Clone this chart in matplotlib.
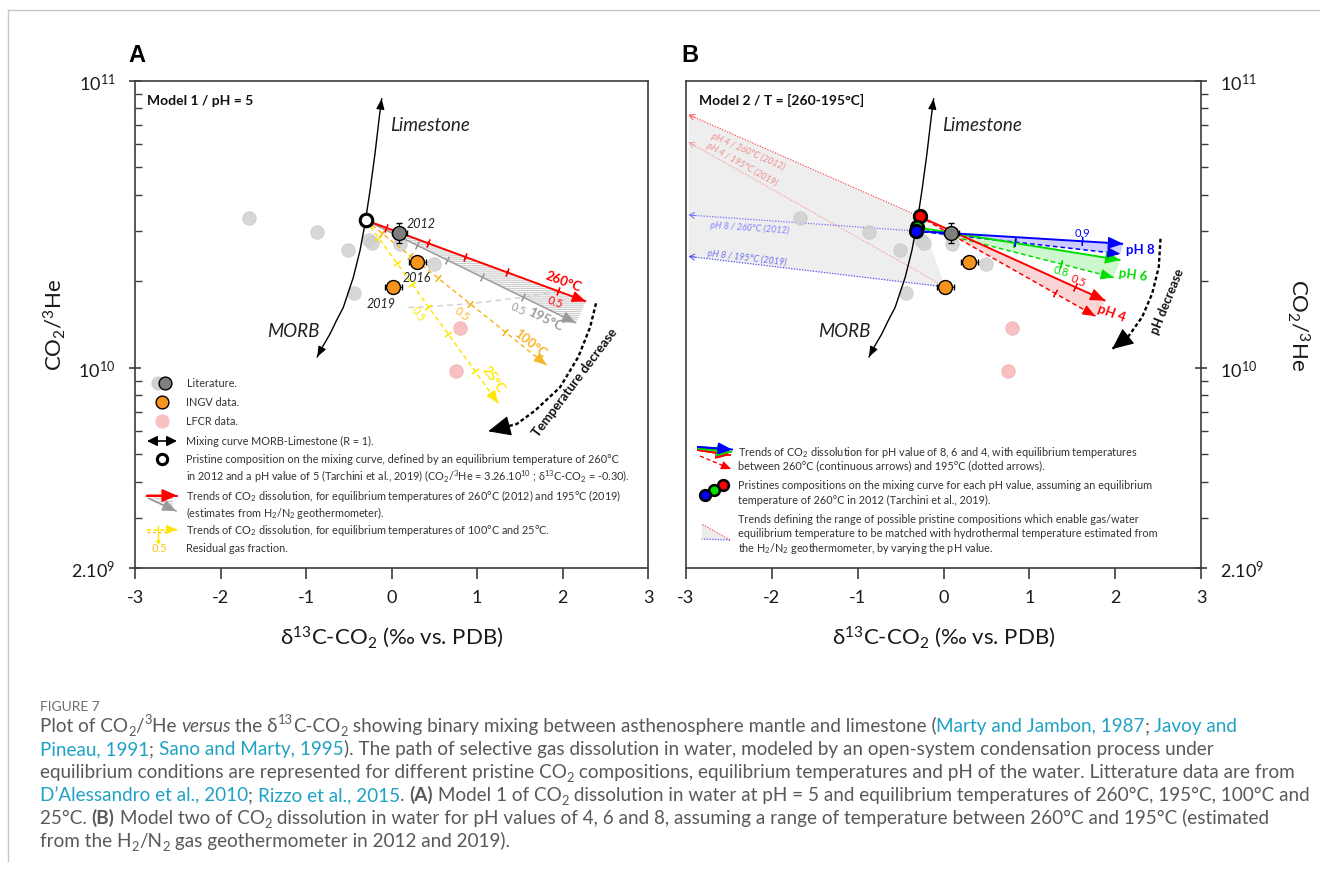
import numpy as np
import matplotlib.pyplot as plt
from matplotlib.patches import Polygon
from matplotlib.ticker import FixedLocator, FixedFormatter, LogLocator, NullFormatter

plt.rcParams['font.family'] = ['Lato', 'DejaVu Sans']
plt.rcParams['mathtext.fontset'] = 'custom'
plt.rcParams['mathtext.rm'] = 'Lato'
plt.rcParams['mathtext.it'] = 'Lato:italic'
plt.rcParams['mathtext.bf'] = 'Lato:bold'
plt.rcParams['hatch.linewidth'] = 0.6

# ---------------- data ----------------
xticks = [-3, -2, -1, 0, 1, 2, 3]
yticks = [2e9, 1e10, 1e11]
ytick_labels = ['2.10$^9$', '10$^{10}$', '10$^{11}$']

# mixing curve MORB - limestone (R = 1)
mix_x = [-0.868, -0.801, -0.719, -0.643, -0.564, -0.447, -0.368, -0.310, -0.251, -0.193, -0.143, -0.115]
mix_y = [1.09e10, 1.19e10, 1.31e10, 1.46e10, 1.62e10, 2.06e10, 2.56e10, 3.17e10, 4.14e10, 5.56e10, 7.45e10, 8.63e10]

# literature data
lit_x = [-1.67, -0.87, -0.505, -0.26, -0.225, 0.094, 0.495, -0.435]
lit_y = [3.32e10, 2.96e10, 2.57e10, 2.79e10, 2.71e10, 2.70e10, 2.30e10, 1.82e10]
lit12_x, lit12_y = 0.09, 2.94e10
lit12_xerr, lit12_yerr = 0.09, [[0.22e10], [0.24e10]]

# INGV data
ingv_x = [0.30, 0.02]
ingv_y = [2.33e10, 1.91e10]
ingv_years = ['2016', '2019']
ingv_xerr = 0.10
ingv_yerr = 0.05e10

# LFCR data
lfcr_x = [0.80, 0.75]
lfcr_y = [1.37e10, 9.7e9]

# pristine composition, model 1
pristine_x, pristine_y = -0.30, 3.26e10

# model 1 dissolution trends (pH = 5)
m1_names = ['260°C', '195°C', '100°C', '25°C']
m1_end_x = [2.275, 2.158, 1.815, 1.249]
m1_end_y = [1.70e10, 1.43e10, 1.02e10, 7.51e9]
m1_ticks = [[-0.06, 0.43, 0.86, 1.35, 1.95],
            [0.295, 0.653, 1.055, 1.542],
            [-0.115, 0.216, 0.547, 0.918, 1.327],
            [-0.154, 0.061, 0.236, 0.431, 0.664, 0.977]]
m1_half = [4, 3, 3, 3]
half_start_x, half_start_y = 0.197, 1.62e10

tdec_x = [2.392, 2.322, 2.185, 1.971, 1.678, 1.464, 1.132]
tdec_y = [1.675e10, 1.38e10, 1.09e10, 8.54e9, 7.08e9, 6.36e9, 6.0e9]

# model 2 (T = 260-195 C)
ph_names = ['pH 8', 'pH 6', 'pH 4']
ph_x0 = [-0.318, -0.303, -0.279]
ph_y0 = [2.99e10, 3.08e10, 3.36e10]
ph260_x = [2.093, 2.061, 1.886]
ph260_y = [2.70e10, 2.37e10, 1.71e10]
ph195_x = [2.061, 1.983, 1.770]
ph195_y = [2.49e10, 2.06e10, 1.51e10]
ph260_tick = [1.615, 0.817, 1.536]
ph195_tick = [0.837, 1.373, 1.303]

range_labels = ['pH 4 / 260°C (2012)', 'pH 4 / 195°C (2019)',
                'pH 8 / 260°C (2012)', 'pH 8 / 195°C (2019)']
range_end_x = -2.97
range_end_y = [7.6e10, 6.1e10, 3.40e10, 2.44e10]

phdec_x = [2.528, 2.508, 2.431, 2.314, 2.158, 1.964]
phdec_y = [2.81e10, 2.24e10, 1.81e10, 1.50e10, 1.29e10, 1.16e10]

# colours
RED = '#ff0000'
GREY = '#9b9b9b'
GOLD = '#f8b62b'
YEL = '#ffe600'
BLUE = '#0000ff'
GREEN = '#00dd00'
LITC = '#d0d0d0'
ORANGE = '#f7941d'
PINK = '#f8c0c0'
TXT = '#333333'


def on_line(x0, y0, x1, y1, x):
    f = (x - x0) / (x1 - x0)
    return 10 ** (np.log10(y0) + f * (np.log10(y1) - np.log10(y0)))


def ang(ax, x0, y0, x1, y1):
    (a, b), (c, d) = ax.transData.transform([(x0, y0), (x1, y1)])
    return np.degrees(np.arctan2(d - b, c - a))


def head(ax, x0, y0, x1, y1, color, size=10, lw=1.0, style='-|>,head_length=0.8,head_width=0.32'):
    t = np.radians(ang(ax, x0, y0, x1, y1))
    L = size * 0.85
    ax.annotate('', xy=(x1, y1), xytext=(-np.cos(t) * L, -np.sin(t) * L), textcoords='offset points',
                arrowprops=dict(arrowstyle=style, color=color, lw=lw, mutation_scale=size,
                                shrinkA=0, shrinkB=0), zorder=7)


def trend(ax, x0, y0, x1, y1, color, ls='-', lw=1.4, size=11, z=5):
    ax.plot([x0, x1], [y0, y1], color=color, ls=ls, lw=lw, zorder=z, solid_capstyle='butt')
    head(ax, x0, y0, x1, y1, color, size=size, lw=0.8)


def frac_ticks(ax, x0, y0, x1, y1, xs, color, ms=6):
    a = ang(ax, x0, y0, x1, y1)
    ys = [on_line(x0, y0, x1, y1, x) for x in xs]
    ax.plot(xs, ys, ls='none', marker=(2, 2, a), ms=ms, mew=0.9, color=color, zorder=6)
    return ys


W, H = 1320, 870
fig = plt.figure(figsize=(W / 100, H / 100), dpi=100)
top, bot = 81.5, 569.3
axA = fig.add_axes([135 / W, 1 - bot / H, 513 / W, (bot - top) / H])
axB = fig.add_axes([686 / W, 1 - bot / H, 515 / W, (bot - top) / H])

for ax in (axA, axB):
    ax.set_yscale('log')
    ax.set_xlim(-3, 3)
    ax.set_ylim(2e9, 1e11)
    ax.set_xticks(xticks)
    ax.set_xticklabels([str(v) for v in xticks])
    ax.yaxis.set_major_locator(FixedLocator(yticks))
    ax.yaxis.set_major_formatter(FixedFormatter(ytick_labels))
    ax.yaxis.set_minor_locator(LogLocator(base=10, subs=np.arange(2, 10)))
    ax.yaxis.set_minor_formatter(NullFormatter())
    for sp in ax.spines.values():
        sp.set_linewidth(1.2)
        sp.set_color('#3c3c3c')
    ax.tick_params(axis='x', direction='out', length=8, width=1.2, color='#3c3c3c',
                   pad=7, labelsize=13, labelcolor='#1a1a1a')
    ax.tick_params(axis='y', which='major', direction='inout', length=8, width=1.2,
                   color='#3c3c3c', labelsize=13, pad=10, labelcolor='#1a1a1a')
    ax.tick_params(axis='y', which='minor', length=5, width=1.0, color='#3c3c3c')
    ax.set_xlabel('δ$^{13}$C-CO$_2$ (‰ vs. PDB)', fontsize=16, va='center', color='#1a1a1a')
    ax.xaxis.set_label_coords(0.5, (bot - 637) / (bot - top))

axA.tick_params(axis='y', which='minor', direction='in')
axA.tick_params(axis='y', which='both', left=True, right=False)
axA.set_ylabel('CO$_2$/$^3$He', fontsize=16, va='center', color='#1a1a1a')
axA.yaxis.set_label_coords((55 - 135) / 513, 0.5)

axB.yaxis.tick_right()
axB.tick_params(axis='y', which='both', left=False, right=True, labelleft=False, labelright=True)
axB.tick_params(axis='y', which='minor', direction='out')
axB.yaxis.set_label_position('right')
axB.set_ylabel('CO$_2$/$^3$He', fontsize=16, rotation=270, va='center', color='#1a1a1a')
axB.yaxis.set_label_coords((1298 - 686) / 515, 0.5)


def common(ax, show_years):
    # mixing curve with arrows at both ends
    ax.plot(mix_x, mix_y, color='k', lw=1.0, zorder=4)
    hs = '-|>,head_length=0.7,head_width=0.28'
    head(ax, mix_x[-2], mix_y[-2], mix_x[-1], mix_y[-1], 'k', size=9, lw=0.8, style=hs)
    head(ax, mix_x[1], mix_y[1], mix_x[0], mix_y[0], 'k', size=9, lw=0.8, style=hs)
    ax.text(0.498, 0.909, 'Limestone', transform=ax.transAxes, fontsize=13.5, style='italic',
            color='#222222', va='center', ha='left')
    ax.text(0.257, 0.488, 'MORB', transform=ax.transAxes, fontsize=13.5, style='italic',
            color='#222222', va='center', ha='left')
    # data
    ax.scatter(lit_x, lit_y, s=95, c=LITC, edgecolors='#c4c4c4', linewidths=0.5, alpha=0.85, zorder=3)
    ax.scatter(lfcr_x, lfcr_y, s=95, c=PINK, edgecolors='#f0b0b0', linewidths=0.5, zorder=3)
    ax.errorbar(lit12_x, lit12_y, xerr=lit12_xerr, yerr=lit12_yerr, fmt='o', ms=10, mfc='#7f7f7f',
                mec='k', mew=1, ecolor='k', elinewidth=0.9, capsize=2.5, zorder=9)
    ax.errorbar(ingv_x, ingv_y, xerr=ingv_xerr, yerr=ingv_yerr, fmt='o', ms=10, mfc=ORANGE,
                mec='k', mew=1, ecolor='k', elinewidth=0.9, capsize=2.5, zorder=9)
    if show_years:
        ax.annotate('2012', (lit12_x, lit12_y), xytext=(5, 7), textcoords='offset points',
                    fontsize=9, style='italic', color='#222222', ha='left', va='center')
        offs = [(0, -10.5), (-9, -11.5)]
        for x, y, t, o in zip(ingv_x, ingv_y, ingv_years, offs):
            ax.annotate(t, (x, y), xytext=o, textcoords='offset points', fontsize=9,
                        style='italic', color='#222222', ha='center', va='center')


# ---------------- panel A ----------------
common(axA, True)
axA.text(0.023, 0.961, 'Model 1 / pH = 5', transform=axA.transAxes, fontsize=10,
         fontweight='bold', va='center', ha='left', color='#111111')

m1_colors = [RED, GREY, GOLD, YEL]
m1_styles = ['-', '-', (0, (3, 2.2)), (0, (3, 2.2))]
m1_lw = [1.4, 1.1, 1.1, 1.1]
m1_z = [6, 5, 4.5, 4.4]

# hatched area between 260 and 195 trends
axA.add_patch(Polygon([(pristine_x, pristine_y), (m1_end_x[0], m1_end_y[0]), (m1_end_x[1], m1_end_y[1])],
                      closed=True, facecolor='#f7f7f7', edgecolor='#c4c4c4', hatch='--------',
                      lw=0, zorder=2))

half_x, half_y = [half_start_x], [half_start_y]
for i in [3, 2, 1, 0]:
    trend(axA, pristine_x, pristine_y, m1_end_x[i], m1_end_y[i], m1_colors[i], ls=m1_styles[i],
          lw=m1_lw[i], size=11 if i < 2 else 10, z=m1_z[i])
    ys = frac_ticks(axA, pristine_x, pristine_y, m1_end_x[i], m1_end_y[i], m1_ticks[i], m1_colors[i])
    half_x.insert(1, m1_ticks[i][m1_half[i]])
    half_y.insert(1, ys[m1_half[i]])
order = np.argsort(half_x)
axA.plot(np.array(half_x)[order], np.array(half_y)[order], color='#cfcfcf', lw=1.0,
         ls=(0, (4, 3)), zorder=3.5)

# labels on model 1 trends
name_off = [(-16, 15), (-22, 3), (-12, 16), (-3.6, 17.6)]
half_off = [(-2.4, -7.2), (-4, -8), (-6, -6.5), (-7.2, -4.8)]
lab_col = [RED, GREY, GOLD, YEL]
for i in range(4):
    a = ang(axA, pristine_x, pristine_y, m1_end_x[i], m1_end_y[i])
    axA.annotate(m1_names[i], (m1_end_x[i], m1_end_y[i]), xytext=name_off[i], textcoords='offset points',
                 fontsize=9.5, fontweight='bold', color=lab_col[i], rotation=a, ha='center',
                 va='center', rotation_mode='anchor', zorder=8)
    hx = m1_ticks[i][m1_half[i]]
    hy = on_line(pristine_x, pristine_y, m1_end_x[i], m1_end_y[i], hx)
    axA.annotate('0.5', (hx, hy), xytext=half_off[i], textcoords='offset points', fontsize=8,
                 color=lab_col[i], rotation=a, ha='center', va='center', rotation_mode='anchor', zorder=8)

axA.plot(pristine_x, pristine_y, 'o', ms=9, mfc='white', mec='k', mew=2.2, zorder=10)

# temperature decrease
axA.plot(tdec_x, tdec_y, color='k', lw=1.7, ls=(0, (1.6, 1.1)), zorder=6)
head(axA, tdec_x[-2], tdec_y[-2], tdec_x[-1], tdec_y[-1], 'k', size=18, lw=0.8,
     style='-|>,head_length=0.8,head_width=0.36')
axA.text(0.858, 0.383, 'Temperature decrease', transform=axA.transAxes, fontsize=9.5,
         fontweight='bold', rotation=53, ha='center', va='center', color='#111111')

# ---------------- panel B ----------------
axB.text(0.025, 0.961, 'Model 2 / T = [260-195°C]', transform=axB.transAxes, fontsize=10,
         fontweight='bold', va='center', ha='left', color='#111111')

# range of possible pristine compositions
axB.add_patch(Polygon([(range_end_x, range_end_y[0]), (ph_x0[2], ph_y0[2]), (ingv_x[1], ingv_y[1]),
                       (range_end_x, range_end_y[3])], closed=True, facecolor='#eeeeee',
                      edgecolor='none', zorder=0.5))
range_start = [(ph_x0[2], ph_y0[2]), (ingv_x[1], ingv_y[1]), (ph_x0[0], ph_y0[0]), (ingv_x[1], ingv_y[1])]
range_col = ['#ff5555', '#f6a0a0', '#7070ff', '#4d4dee']
range_txt = ['#f38a8a', '#f08c8c', '#8080ff', '#7070f0']
range_pos = [(0.121, 0.856), (0.108, 0.830), (0.123, 0.699), (0.118, 0.639)]
for (sx, sy), ey, c, tc, lab, pos in zip(range_start, range_end_y, range_col, range_txt, range_labels, range_pos):
    axB.plot([sx, range_end_x], [sy, ey], color=c, lw=0.9, ls=(0, (1, 1.2)), zorder=2)
    head(axB, sx, sy, range_end_x, ey, c, size=6, lw=0.7, style='->,head_length=0.6,head_width=0.35')
    a = ang(axB, sx, sy, range_end_x, ey) + 180
    axB.text(pos[0], pos[1], lab, transform=axB.transAxes, fontsize=6.5, style='italic', color=tc,
             rotation=a, ha='center', va='center', rotation_mode='anchor')

common(axB, False)

ph_colors = [BLUE, GREEN, RED]
ph_fill = ['#b8b8ff', '#b8f5b8', '#f9c4c4']
for i in range(3):
    axB.add_patch(Polygon([(ph_x0[i], ph_y0[i]), (ph260_x[i], ph260_y[i]), (ph195_x[i], ph195_y[i])],
                          closed=True, facecolor=ph_fill[i], edgecolor='none', alpha=0.7, zorder=2.5))
for i in [2, 1, 0]:
    trend(axB, ph_x0[i], ph_y0[i], ph195_x[i], ph195_y[i], ph_colors[i], ls=(0, (3, 2)), lw=1.1,
          size=10, z=5)
    trend(axB, ph_x0[i], ph_y0[i], ph260_x[i], ph260_y[i], ph_colors[i], lw=1.4, size=12, z=5.5)
    frac_ticks(axB, ph_x0[i], ph_y0[i], ph260_x[i], ph260_y[i], [ph260_tick[i]], ph_colors[i])
    frac_ticks(axB, ph_x0[i], ph_y0[i], ph195_x[i], ph195_y[i], [ph195_tick[i]], ph_colors[i])

# residual fraction labels
y9 = on_line(ph_x0[0], ph_y0[0], ph260_x[0], ph260_y[0], ph260_tick[0])
axB.annotate('0.9', (ph260_tick[0], y9), xytext=(0, 6.5), textcoords='offset points', fontsize=8,
             color=BLUE, ha='center', va='center')
y8 = on_line(ph_x0[1], ph_y0[1], ph195_x[1], ph195_y[1], ph195_tick[1])
axB.annotate('0.8', (ph195_tick[1], y8), xytext=(0, -4.8), textcoords='offset points', fontsize=8,
             color=GREEN, ha='center', va='center', rotation=ang(axB, ph_x0[1], ph_y0[1], ph195_x[1], ph195_y[1]))
y5 = on_line(ph_x0[2], ph_y0[2], ph260_x[2], ph260_y[2], ph260_tick[2])
axB.annotate('0.5', (ph260_tick[2], y5), xytext=(2.4, 5.3), textcoords='offset points', fontsize=8,
             color=RED, ha='center', va='center', rotation=ang(axB, ph_x0[2], ph_y0[2], ph260_x[2], ph260_y[2]))

# pH labels
ph_off = [(4, 3.5), (3.6, 3.6), (11.5, 3)]
ph_rot = [0, -8, -20]
for i in range(3):
    axB.annotate(ph_names[i], (ph195_x[i], ph195_y[i]), xytext=ph_off[i], textcoords='offset points',
                 fontsize=9.5, fontweight='bold', color=ph_colors[i], rotation=ph_rot[i],
                 ha='left' if i < 2 else 'center', va='center', rotation_mode='anchor')

for i in [2, 1, 0]:
    axB.plot(ph_x0[i], ph_y0[i], 'o', ms=9, mfc=ph_colors[i], mec='k', mew=2.0, zorder=10)

axB.plot(phdec_x, phdec_y, color='k', lw=1.7, ls=(0, (1.6, 1.1)), zorder=6)
head(axB, phdec_x[-2], phdec_y[-2], phdec_x[-1], phdec_y[-1], 'k', size=17, lw=0.8,
     style='-|>,head_length=0.8,head_width=0.36')
axB.text(0.934, 0.548, 'pH decrease', transform=axB.transAxes, fontsize=9,
         fontweight='bold', rotation=68, ha='center', va='center', color='#111111')

# ---------------- overlay: frame, letters, legends, caption ----------------
ov = fig.add_axes([0, 0, 1, 1])
ov.set_xlim(0, W)
ov.set_ylim(H, 0)
ov.axis('off')
ov.patch.set_alpha(0)

ov.plot([8, W], [11, 11], color='#c6c6c6', lw=1.0)
ov.plot([8, 8], [11, 862], color='#c6c6c6', lw=1.0)
ov.text(137, 55, 'A', fontsize=17, fontweight='bold', family=['Liberation Sans', 'DejaVu Sans'],
        ha='center', va='center')
ov.text(690, 55, 'B', fontsize=17, fontweight='bold', family=['Liberation Sans', 'DejaVu Sans'],
        ha='center', va='center')


def oarrow(p0, p1, color, lw=1.0, ls='-', size=8, style='-|>,head_length=0.8,head_width=0.35'):
    ov.plot([p0[0], p1[0]], [p0[1], p1[1]], color=color, lw=lw, ls=ls)
    ov.annotate('', xy=p1, xytext=p0, arrowprops=dict(arrowstyle=style, color=color, lw=0.001 if ls != '-' else lw,
                                                       mutation_scale=size, shrinkA=0, shrinkB=0))


# legend A
ov.scatter([158.3], [383.5], s=85, c=LITC, zorder=5)
ov.scatter([165], [383.5], s=85, c='#7f7f7f', edgecolors='k', linewidths=1, zorder=6)
ov.scatter([162.3], [402.5], s=85, c=ORANGE, edgecolors='k', linewidths=1)
ov.scatter([162.3], [421.5], s=85, c=PINK)
ov.annotate('', xy=(177, 442), xytext=(147, 442),
            arrowprops=dict(arrowstyle='<|-|>,head_length=0.6,head_width=0.3', color='k', lw=1.2,
                            mutation_scale=10, shrinkA=0, shrinkB=0))
ov.scatter([162.3], [459.5], s=55, c='white', edgecolors='k', linewidths=2.2, zorder=6)
ov.add_patch(Polygon([(149, 497), (173, 497), (173, 510)], closed=True, facecolor='#f4f4f4',
                     edgecolor='#c4c4c4', hatch='------', lw=0))
oarrow((149, 499.5), (176, 512), GREY, lw=1.1, size=10)
oarrow((147, 496.5), (177, 496.5), RED, lw=1.4, size=11)
oarrow((147, 530.5), (177, 530.5), YEL, lw=1.2, ls=(0, (2.5, 1.5)), size=10)
ov.plot([147, 168], [532.5, 532.5], color=GOLD, lw=0.8, ls=(0, (2.5, 2.5)))
ov.plot([158.3, 158.3], [527, 542], color=YEL, lw=1.0)
ov.plot([158.3], [542], 'o', ms=2, color=YEL)
ov.text(159, 549, '0.5', fontsize=8, color='#f5c518', ha='center', va='center')

legA = [(384, 'Literature.'), (403, 'INGV data.'), (422, 'LFCR data.'),
        (442, 'Mixing curve MORB-Limestone (R = 1).'),
        (460, 'Pristine composition on the mixing curve, defined by an equilibrium temperature of 260°C'),
        (478, 'in 2012 and a pH value of 5 (Tarchini et al., 2019) (CO$_2$/$^3$He = 3.26.10$^{10}$ ; '
              'δ$^{13}$C-CO$_2$ = -0.30).'),
        (497, 'Trends of CO$_2$ dissolution, for equilibrium temperatures of 260°C (2012) and 195°C (2019)'),
        (514, '(estimates from H$_2$/N$_2$ geothermometer).'),
        (531, 'Trends of CO$_2$ dissolution, for equilibrium temperatures of 100°C and 25°C.'),
        (549, 'Residual gas fraction.')]
for y, s in legA:
    ov.text(186.5, y + 3, s, fontsize=7.8, color=TXT, ha='left', va='baseline')

# legend B
ov.add_patch(Polygon([(701.7, 525), (730, 541), (701.7, 540)], closed=True, facecolor='#ececec',
                     edgecolor='none'))
oarrow((730, 541), (701.7, 525), '#ff5555', lw=0.9, ls=(0, (1, 1.2)), size=6,
       style='->,head_length=0.6,head_width=0.35')
oarrow((730, 541), (701.7, 540), '#5555ff', lw=0.9, ls=(0, (1, 1.2)), size=6,
       style='->,head_length=0.6,head_width=0.35')
oarrow((700, 457), (731, 470), RED, lw=1.0, ls=(0, (3, 2)), size=9)
oarrow((698, 451), (730, 456), RED, lw=1.4, size=10)
oarrow((698, 449.5), (731, 453), GREEN, lw=1.4, size=10)
oarrow((698, 448), (732, 450.5), BLUE, lw=1.4, size=10)
ov.scatter([723.3], [485.7], s=60, c=RED, edgecolors='k', linewidths=1.8, zorder=5)
ov.scatter([714], [490.7], s=60, c=GREEN, edgecolors='k', linewidths=1.8, zorder=6)
ov.scatter([705], [496], s=60, c=BLUE, edgecolors='k', linewidths=1.8, zorder=7)

legB = [(452.7, 'Trends of CO$_2$ dissolution for pH value of 8, 6 and 4, with equilibrium temperatures'),
        (466.7, 'between 260°C (continuous arrows) and 195°C (dotted arrows).'),
        (485.7, 'Pristines compositions on the mixing curve for each pH value, assuming an equilibrium'),
        (501, 'temperature of 260°C in 2012 (Tarchini et al., 2019).'),
        (520, 'Trends defining the range of possible pristine compositions which enable gas/water'),
        (534.3, 'equilibrium temperature to be matched with hydrothermal temperature estimated from'),
        (548.7, 'the H$_2$/N$_2$ geothermometer, by varying the pH value.')]
for y, s in legB:
    ov.text(738.3, y + 3, s, fontsize=7.8, color=TXT, ha='left', va='baseline')

# caption
CAP = '#58595b'
LINK = '#1fa2c4'
renderer = fig.canvas.get_renderer()


def seg_kw(k, fs):
    kw = dict(fontsize=fs, color=CAP, ha='left', va='baseline')
    if k == 'l':
        kw['color'] = LINK
    elif k == 'i':
        kw['style'] = 'italic'
    elif k == 'b':
        kw['fontweight'] = 'bold'
    elif k in ('_', '^'):
        kw['fontsize'] = fs * 0.68
    return kw


def seg_width(s, kw):
    a = ov.text(0, 0, 'x' + s + 'x', **kw)
    b = ov.text(0, 0, 'xx', **kw)
    w = a.get_window_extent(renderer).width - b.get_window_extent(renderer).width
    a.remove()
    b.remove()
    return w


def rich(x, y, segs, fs, draw=True):
    px = fs * 100 / 72
    x0 = x
    for s, k in segs:
        kw = seg_kw(k, fs)
        dy = 0.2 * px if k == '_' else (-0.4 * px if k == '^' else 0)
        if draw:
            ov.text(x, y + dy, s, **kw)
        x += seg_width(s, kw)
    return x - x0


cap_lines = [
    [('Plot of CO', ''), ('2', '_'), ('/', ''), ('3', '^'), ('He ', ''), ('versus', 'i'), (' the δ', ''),
     ('13', '^'), ('C-CO', ''), ('2', '_'),
     (' showing binary mixing between asthenosphere mantle and limestone (', ''),
     ('Marty and Jambon, 1987', 'l'), ('; ', ''), ('Javoy and', 'l')],
    [('Pineau, 1991', 'l'), ('; ', ''), ('Sano and Marty, 1995', 'l'),
     ('). The path of selective gas dissolution in water, modeled by an open-system condensation process under', '')],
    [('equilibrium conditions are represented for different pristine CO', ''), ('2', '_'),
     (' compositions, equilibrium temperatures and pH of the water. Litterature data are from', '')],
    [('D’Alessandro et al., 2010', 'l'), ('; ', ''), ('Rizzo et al., 2015', 'l'), ('. ', ''), ('(A)', 'b'),
     (' Model 1 of CO', ''), ('2', '_'),
     (' dissolution in water at pH = 5 and equilibrium temperatures of 260°C, 195°C, 100°C and', '')],
    [('25°C. ', ''), ('(B)', 'b'), (' Model two of CO', ''), ('2', '_'),
     (' dissolution in water for pH values of 4, 6 and 8, assuming a range of temperature between 260°C and 195°C (estimated', '')],
    [('from the H', ''), ('2', '_'), ('/N', ''), ('2', '_'), (' gas geothermometer in 2012 and 2019).', '')],
]
# font size chosen so that the third line spans the caption width of the reference layout
w12 = rich(40, 0, cap_lines[2], 12, draw=False)
cap_fs = 12 * 1250 / w12
ov.text(40, 711, 'FIGURE 7', fontsize=10, color='#6d6e71', ha='left', va='baseline')
for j, line in enumerate(cap_lines):
    rich(40, 732 + 23 * j, line, cap_fs)

fig.savefig('out.png', dpi=100)
